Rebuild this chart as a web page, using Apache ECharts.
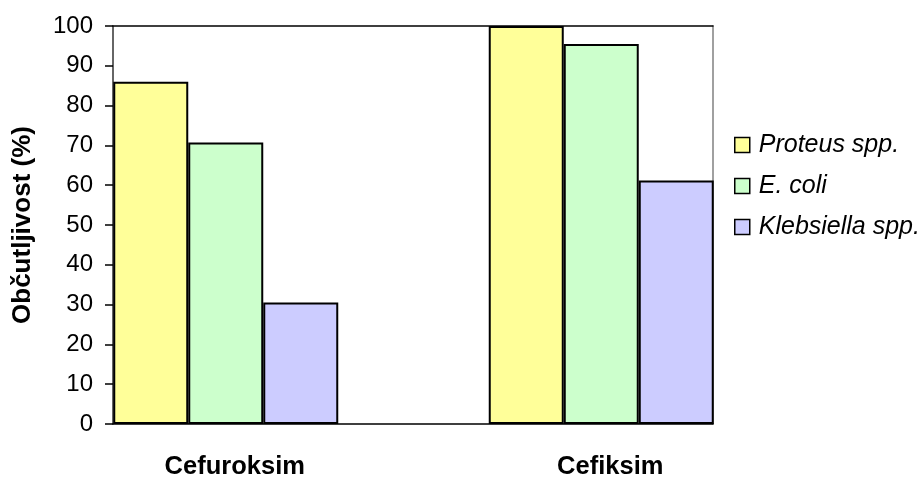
<!DOCTYPE html>
<html>
<head>
<meta charset="utf-8">
<script src="https://cdn.jsdelivr.net/npm/echarts@6/dist/echarts.min.js"></script>
<style>
  html, body { margin: 0; padding: 0; background: #ffffff; }
  #chart { width: 924px; height: 478px; }
</style>
</head>
<body>
<div id="chart"></div>
<script>
// Susceptibility (%) of uropathogens to two oral cephalosporins
const categories = ['Cefuroksim', 'Cefiksim'];
const proteus = [86, 100];
const ecoli = [70.7, 95.5];
const klebsiella = [30.5, 61.2];
const seriesNames = ['Proteus spp.', 'E. coli', 'Klebsiella spp.'];
const yTicks = [0, 10, 20, 30, 40, 50, 60, 70, 80, 90, 100];

const FONT = '"Liberation Sans", Arial, sans-serif';
const colors = ['#FFFF99', '#CCFFCC', '#CCCCFF'];
const values = [proteus, ecoli, klebsiella];

const chart = echarts.init(document.getElementById('chart'), null, { renderer: 'canvas' });

const barSeries = seriesNames.map((name, i) => ({
  name: name,
  type: 'bar',
  xAxisIndex: 2,
  yAxisIndex: 2,
  data: values[i],
  barWidth: 75,
  barGap: '0%',
  z: 5,
  itemStyle: { color: colors[i], borderColor: '#000000', borderWidth: 2 }
}));

chart.setOption({
  backgroundColor: '#ffffff',
  animation: false,
  textStyle: { fontFamily: FONT },
  grid: [
    // plot frame with the value scale
    { left: 113, top: 26, width: 600, height: 398, outerBoundsMode: 'none', containLabel: false },
    // grouped bars, one slot per antibiotic
    { left: 38, top: 26, width: 751, height: 398, outerBoundsMode: 'none', containLabel: false }
  ],
  legend: {
    orient: 'vertical',
    left: 729,
    top: 126,
    itemWidth: 15,
    itemHeight: 15,
    itemGap: 13,
    icon: 'rect',
    itemStyle: { borderWidth: 1.5, borderColor: '#000000' },
    textStyle: {
      fontFamily: FONT, fontSize: 25, fontStyle: 'italic', color: '#000000',
      lineHeight: 28, padding: [0, 0, 0, 4]
    },
    data: seriesNames
  },
  xAxis: [
    { // bottom frame line
      gridIndex: 0, type: 'value', min: 0, max: 1, position: 'bottom',
      axisLine: { show: true, onZero: false, lineStyle: { color: '#000000', width: 1.5 } },
      axisTick: { show: false }, axisLabel: { show: false }, splitLine: { show: false }
    },
    { // top frame line
      gridIndex: 0, type: 'value', min: 0, max: 1, position: 'top',
      axisLine: { show: true, onZero: false, lineStyle: { color: '#000000', width: 1.5 } },
      axisTick: { show: false }, axisLabel: { show: false }, splitLine: { show: false }
    },
    { // antibiotic categories
      gridIndex: 1, type: 'category', data: categories,
      axisLine: { show: false }, axisTick: { show: false },
      axisLabel: {
        fontFamily: FONT, fontSize: 25.5, fontWeight: 'bold', color: '#000000',
        margin: 30, padding: [0, 0, 0, 18]
      },
      splitLine: { show: false }
    }
  ],
  yAxis: [
    { // left value axis
      gridIndex: 0, type: 'value', min: 0, max: 100, interval: 10, position: 'left',
      name: 'Občutljivost (%)', nameLocation: 'middle', nameGap: 77, nameRotate: 90,
      nameTextStyle: { fontFamily: FONT, fontSize: 26, fontWeight: 'bold', color: '#000000' },
      axisLine: { show: true, onZero: false, lineStyle: { color: '#333333', width: 1.5 } },
      axisTick: { show: true, inside: false, length: 8, lineStyle: { color: '#000000', width: 1.5 } },
      axisLabel: {
        fontFamily: FONT, fontSize: 24, color: '#000000', margin: 20,
        customValues: yTicks
      },
      splitLine: { show: false }
    },
    { // right frame line
      gridIndex: 0, type: 'value', min: 0, max: 100, position: 'right',
      axisLine: { show: true, onZero: false, lineStyle: { color: '#808080', width: 1.5 } },
      axisTick: { show: false }, axisLabel: { show: false }, splitLine: { show: false }
    },
    { // scale for the bars
      gridIndex: 1, type: 'value', min: 0, max: 100, show: false,
      splitLine: { show: false }
    }
  ],
  series: barSeries
});
</script>
</body>
</html>
